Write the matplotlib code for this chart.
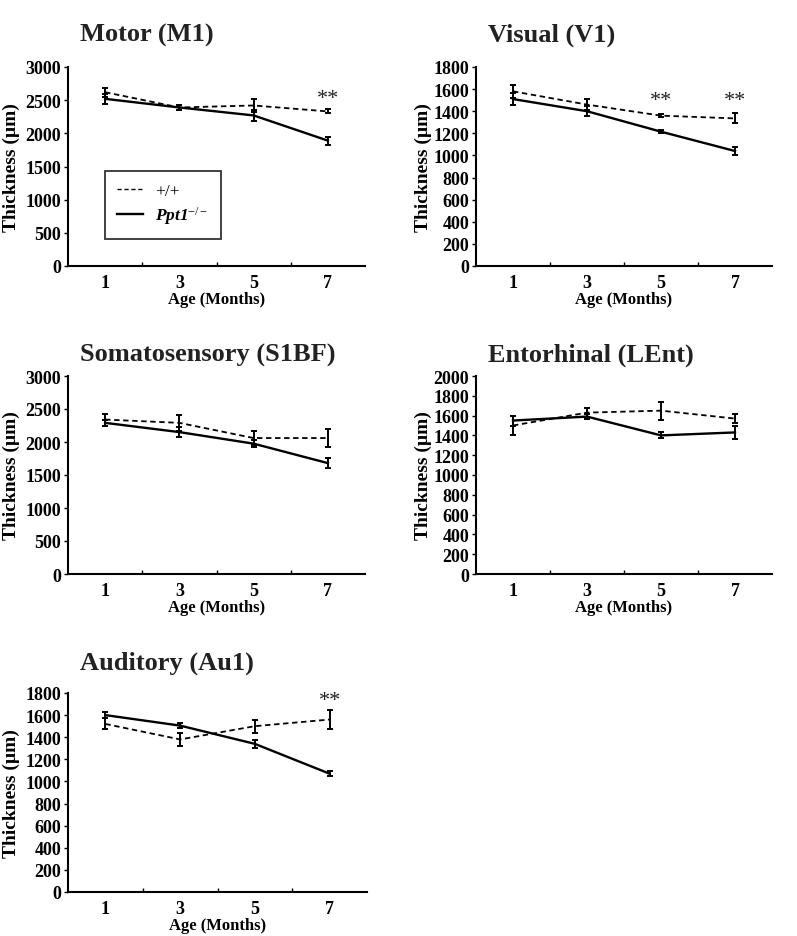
import numpy as np
import matplotlib
matplotlib.use("Agg")
import matplotlib.pyplot as plt
from matplotlib.lines import Line2D

plt.rcParams['font.family'] = ['Liberation Serif', 'DejaVu Serif']
plt.rcParams['mathtext.fontset'] = 'custom'
plt.rcParams['mathtext.rm'] = 'Liberation Serif'
plt.rcParams['mathtext.it'] = 'Liberation Serif:italic'
plt.rcParams['mathtext.bf'] = 'Liberation Serif:bold'
plt.rcParams['mathtext.bfit'] = 'Liberation Serif:italic:bold'

ages = [1, 3, 5, 7]

titles = ["Motor (M1)", "Visual (V1)", "Somatosensory (S1BF)",
          "Entorhinal (LEnt)", "Auditory (Au1)"]
y_max = [3000, 1800, 3000, 2000, 1800]
y_step = [500, 200, 500, 200, 200]

# +/+ (dashed)
wt_mean = [
    [2620, 2390, 2420, 2330],
    [1580, 1460, 1360, 1335],
    [2340, 2290, 2060, 2060],
    [1500, 1630, 1650, 1570],
    [1520, 1380, 1500, 1560],
]
wt_err = [
    [70, 40, 100, 30],
    [60, 50, 15, 45],
    [90, 120, 100, 130],
    [100, 50, 90, 45],
    [50, 55, 60, 90],
]
# Ppt1-/- (solid)
ko_mean = [
    [2520, 2390, 2270, 1890],
    [1510, 1400, 1215, 1040],
    [2290, 2150, 1975, 1680],
    [1550, 1590, 1400, 1430],
    [1600, 1505, 1340, 1070],
]
ko_err = [
    [80, 40, 80, 60],
    [55, 45, 15, 40],
    [50, 80, 50, 80],
    [50, 25, 30, 70],
    [30, 25, 35, 25],
]
# significance marks: (panel, age, y)
stars = [(0, 7, 2530), (1, 5, 1495), (1, 7, 1495), (4, 7, 1730)]

W, H = 797, 937
fig = plt.figure(figsize=(W / 100, H / 100), dpi=100)

# axes boxes in pixels: left, top, right, bottom
boxes = [
    (68, 68, 365, 267),
    (476, 68, 772, 267),
    (68, 377, 365, 575),
    (476, 377, 772, 575),
    (68, 694, 367, 893),
]
title_gap = [26, 26, 15, 15, 24]
ylab_x = [-48, -44, -48, -44, -48]
dash = (0, (3, 2))

axes = []
for i, (l, t, r, b) in enumerate(boxes):
    ax = fig.add_axes([l / W, (H - b) / H, (r - l) / W, (b - t) / H])
    axes.append(ax)

    ax.errorbar(ages, wt_mean[i], yerr=wt_err[i], color='black', lw=1.3,
                ls=dash, capsize=2.5, capthick=1.4, elinewidth=1.4)
    ax.errorbar(ages, ko_mean[i], yerr=ko_err[i], color='black', lw=1.7,
                ls='-', capsize=2.5, capthick=1.4, elinewidth=1.4)

    ax.set_xlim(0, 8)
    ax.set_ylim(0, y_max[i])
    ax.set_yticks(np.arange(0, y_max[i] + 1, y_step[i]))
    ax.set_xticks(ages)
    ax.set_xticks([2, 4, 6], minor=True)
    ax.tick_params(axis='x', which='major', length=0, pad=6, labelsize=13)
    ax.tick_params(axis='x', which='minor', direction='in', length=3, width=1)
    ax.tick_params(axis='y', length=3, width=1, pad=2, labelsize=13)
    for lab in ax.get_xticklabels() + ax.get_yticklabels():
        lab.set_fontweight('bold')

    for s in ['top', 'right']:
        ax.spines[s].set_visible(False)
    for s in ['left', 'bottom']:
        ax.spines[s].set_linewidth(1.5)

    ax.set_ylabel("Thickness (µm)", fontsize=14, fontweight='bold')
    ax.yaxis.set_label_coords(ylab_x[i] / (r - l), 0.5)
    ax.set_xlabel("Age (Months)", fontsize=12, fontweight='bold', labelpad=0)

    ax.annotate(titles[i], xy=(0, 1), xycoords='axes fraction',
                xytext=(12 * 0.72, title_gap[i] * 0.72), textcoords='offset points',
                fontsize=19, fontweight='bold', color='#222222',
                ha='left', va='baseline')

for p, x, y in stars:
    axes[p].text(x, y, "**", fontsize=16, ha='center', va='center', color='#222222')

handles = [Line2D([], [], color='black', lw=1.0, ls=dash),
           Line2D([], [], color='black', lw=1.7)]
labels = ['+/+', r'$\mathbfit{Ppt1}^{\mathit{-/-}}$']
leg = axes[0].legend(handles, labels, loc='upper left',
                     bbox_to_anchor=(0.125, 0.477), borderaxespad=0,
                     fontsize=12.5, frameon=True, fancybox=False,
                     edgecolor='black', handlelength=1.5, borderpad=0.7,
                     labelspacing=0.3, handletextpad=0.7)
leg.get_frame().set_linewidth(1.3)

fig.savefig("out.png", dpi=100, facecolor='white')
